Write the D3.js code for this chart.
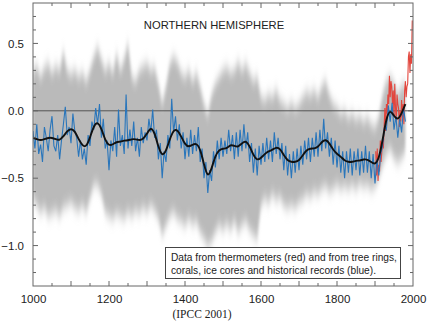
<!DOCTYPE html>
<html><head><meta charset="utf-8">
<script src="https://cdn.jsdelivr.net/npm/d3@7/dist/d3.min.js"></script>
<style>
html,body{margin:0;padding:0;background:#fff;}
svg{display:block;font-family:"Liberation Sans",Arial,sans-serif;}
</style></head>
<body>
<svg id="c" width="430" height="321"></svg>
<script>
// ---- data ----
const title = "NORTHERN HEMISPHERE";
const noteLines = ["Data from thermometers (red) and from tree rings,",
                   "corals, ice cores and historical records (blue)."];
const source = "(IPCC 2001)";
const xTicks = [1000, 1200, 1400, 1600, 1800, 2000];
const yTicks = [-1.0, -0.5, 0.0, 0.5];

// smoothed reconstruction, 1000..1980 every 10 years
const smoothStart = 1000, smoothStep = 10;
const smooth = [-0.20,-0.21,-0.22,-0.21,-0.20,-0.20,-0.21,-0.22,-0.19,-0.15,
 -0.13,-0.15,-0.21,-0.26,-0.27,-0.20,-0.11,-0.08,-0.13,-0.22,
 -0.26,-0.25,-0.23,-0.23,-0.22,-0.22,-0.21,-0.21,-0.22,-0.21,
 -0.17,-0.12,-0.16,-0.27,-0.34,-0.30,-0.21,-0.14,-0.14,-0.19,
 -0.25,-0.27,-0.25,-0.24,-0.28,-0.40,-0.50,-0.43,-0.33,-0.29,
 -0.28,-0.28,-0.25,-0.26,-0.27,-0.24,-0.22,-0.26,-0.33,-0.37,
 -0.35,-0.32,-0.30,-0.29,-0.27,-0.28,-0.33,-0.37,-0.38,-0.38,
 -0.37,-0.33,-0.29,-0.28,-0.28,-0.27,-0.23,-0.21,-0.24,-0.29,
 -0.32,-0.34,-0.37,-0.38,-0.38,-0.37,-0.37,-0.36,-0.36,-0.38,
 -0.40,-0.36,-0.22,-0.05,0.01,-0.04,-0.07,-0.02,0.05];

// proxy reconstruction (blue), 1000..1980 every 5 years
const blueStart = 1000, blueStep = 5;
const blue = [-0.15,-0.28,-0.10,-0.32,-0.25,-0.38,-0.12,-0.20,-0.30,-0.14,
 -0.04,-0.26,-0.30,-0.18,-0.36,-0.22,-0.10,0.03,-0.18,-0.12,
 -0.24,-0.02,-0.15,-0.20,-0.34,-0.22,-0.36,-0.28,-0.40,-0.18,
 -0.26,-0.08,-0.14,0.02,-0.10,0.05,-0.20,-0.06,-0.28,-0.22,
 -0.44,-0.22,-0.30,-0.12,-0.34,0.01,-0.26,-0.18,-0.32,0.12,
 -0.28,-0.14,-0.26,-0.08,-0.30,-0.20,-0.34,-0.12,-0.24,-0.16,
 -0.22,-0.06,-0.16,0.01,-0.20,-0.14,-0.36,-0.24,-0.50,-0.30,
 -0.38,-0.18,-0.28,0.09,-0.16,-0.04,-0.22,-0.10,-0.28,-0.16,
 -0.36,-0.20,-0.34,-0.14,-0.32,-0.18,-0.30,-0.12,-0.38,-0.28,
 -0.50,-0.38,-0.61,-0.44,-0.52,-0.30,-0.42,-0.22,-0.36,-0.20,
 -0.34,-0.22,-0.32,-0.14,-0.30,-0.18,-0.36,-0.16,-0.34,-0.14,
 -0.30,-0.10,-0.28,-0.16,-0.38,-0.24,-0.46,-0.28,-0.48,-0.26,
 -0.40,-0.24,-0.38,-0.20,-0.36,-0.22,-0.38,-0.16,-0.32,-0.20,
 -0.36,-0.24,-0.44,-0.26,-0.48,-0.32,-0.50,-0.30,-0.46,-0.28,
 -0.44,-0.26,-0.40,-0.22,-0.36,-0.20,-0.38,-0.20,-0.34,-0.16,
 -0.34,-0.14,-0.30,-0.06,-0.28,-0.16,-0.34,-0.20,-0.40,-0.22,
 -0.42,-0.26,-0.46,-0.30,-0.50,-0.30,-0.46,-0.28,-0.48,-0.30,
 -0.44,-0.28,-0.48,-0.30,-0.46,-0.26,-0.46,-0.30,-0.50,-0.32,
 -0.54,-0.36,-0.48,-0.32,-0.26,-0.12,-0.14,0.04,-0.08,0.06,
 -0.14,-0.04,-0.20,-0.06,-0.16,0.02,-0.08];

// instrumental record (red), 1902..1998 every 2 years
const redStart = 1902, redStep = 2;
const red = [-0.30,-0.48,-0.28,-0.52,-0.40,-0.45,-0.22,-0.38,-0.30,-0.20,
 -0.28,-0.12,0.02,-0.15,0.05,-0.02,0.12,0.05,0.26,0.10,
 0.22,0.18,0.05,0.15,-0.05,0.20,0.02,-0.08,0.12,0.05,
 0.02,-0.12,0.00,-0.08,0.08,-0.05,0.05,-0.10,0.15,0.22,
 0.10,0.18,0.20,0.40,0.44,0.28,0.42,0.35,0.67];

// uncertainty band, 1000..1980 every 10 years
const bandStart = 1000, bandStep = 10;
const bandUpper = [0.30,0.33,0.25,0.32,0.35,0.28,0.33,0.30,0.44,0.30,
 0.27,0.30,0.25,0.28,0.22,0.30,0.40,0.47,0.38,0.30,
 0.35,0.28,0.42,0.30,0.38,0.50,0.25,0.22,0.30,0.33,
 0.35,0.30,0.32,0.20,0.05,0.18,0.35,0.40,0.36,0.28,
 0.25,0.30,0.22,0.28,0.18,0.05,-0.03,0.12,0.20,0.25,
 0.30,0.32,0.28,0.30,0.36,0.30,0.35,0.28,0.22,0.25,
 0.10,0.08,0.12,0.10,0.15,0.08,0.05,0.02,0.06,0.02,
 0.05,0.10,0.14,0.12,0.15,0.10,0.18,0.22,0.12,0.05,
 0.02,-0.02,0.00,-0.05,-0.02,-0.06,-0.04,-0.08,-0.05,-0.10,
 -0.12,-0.05,0.12,0.22,0.25,0.20,0.12,0.18,0.20];
const bandLower = [-0.65,-0.70,-0.75,-0.72,-0.78,-0.76,-0.74,-0.78,-0.72,-0.70,
 -0.68,-0.72,-0.74,-0.70,-0.75,-0.65,-0.55,-0.55,-0.62,-0.75,
 -0.78,-0.80,-0.76,-0.78,-0.80,-0.75,-0.78,-0.74,-0.76,-0.72,
 -0.75,-0.70,-0.74,-0.80,-0.92,-0.85,-0.78,-0.75,-0.80,-0.82,
 -0.85,-0.80,-0.84,-0.82,-0.90,-0.95,-1.00,-0.97,-0.90,-0.85,
 -0.88,-0.84,-0.88,-0.82,-0.90,-0.85,-0.82,-0.88,-0.92,-0.95,
 -0.70,-0.65,-0.68,-0.62,-0.66,-0.64,-0.70,-0.72,-0.70,-0.72,
 -0.68,-0.66,-0.62,-0.64,-0.60,-0.62,-0.58,-0.56,-0.60,-0.58,
 -0.55,-0.58,-0.56,-0.58,-0.55,-0.58,-0.54,-0.56,-0.55,-0.58,
 -0.56,-0.50,-0.40,-0.32,-0.28,-0.35,-0.38,-0.35,-0.30];

// ---- drawing ----
const svg = d3.select("#c");
const L = 33, R = 413, T = 3, B = 286;
const x = d3.scaleLinear().domain([1000, 2000]).range([L, R]);
const y = d3.scaleLinear().domain([-1.3, 0.8]).range([B, T]);

const series = (vals, start, step) => vals.map((v, i) => ({yr: start + i * step, v}));

const defs = svg.append("defs");
defs.append("clipPath").attr("id", "plot")
  .append("rect").attr("x", L).attr("y", T).attr("width", R - L).attr("height", B - T);
const f = defs.append("filter").attr("id", "fuzz")
  .attr("filterUnits", "userSpaceOnUse").attr("x", 0).attr("y", 0).attr("width", 430).attr("height", 321);
f.append("feGaussianBlur").attr("stdDeviation", "1 7");

const g = svg.append("g").attr("clip-path", "url(#plot)");

const band = bandUpper.map((u, i) => ({yr: bandStart + i * bandStep, hi: u, lo: bandLower[i]}));
g.append("path").datum(band)
  .attr("d", d3.area().x(d => x(d.yr)).y0(d => y(d.lo)).y1(d => y(d.hi)))
  .attr("fill", "#bababa").attr("filter", "url(#fuzz)");

g.append("line").attr("x1", L).attr("x2", R).attr("y1", y(0)).attr("y2", y(0))
  .attr("stroke", "#555").attr("stroke-width", 1);

const line = d3.line().x(d => x(d.yr)).y(d => y(d.v));

g.append("path").datum(series(red, redStart, redStep))
  .attr("d", line).attr("fill", "none").attr("stroke", "#e2463d").attr("stroke-width", 1.1);
g.append("path").datum(series(blue, blueStart, blueStep))
  .attr("d", line).attr("fill", "none").attr("stroke", "#2a76bb").attr("stroke-width", 1.1);
g.append("path").datum(series(smooth, smoothStart, smoothStep))
  .attr("d", line.curve(d3.curveBasis)).attr("fill", "none").attr("stroke", "#111").attr("stroke-width", 1.9);

// frame
svg.append("rect").attr("x", L).attr("y", T).attr("width", R - L).attr("height", B - T)
  .attr("fill", "none").attr("stroke", "#666").attr("stroke-width", 1);

// ticks (inward)
const minorX = d3.range(1050, 2000, 50);
const minorY = d3.range(-12, 8).map(k => k / 10);
const tk = svg.append("g").attr("stroke", "#666").attr("stroke-width", 1);
minorX.forEach(t => {
  const len = (t % 100 === 0) ? 5 : 3;
  tk.append("line").attr("x1", x(t)).attr("x2", x(t)).attr("y1", B).attr("y2", B - len);
  tk.append("line").attr("x1", x(t)).attr("x2", x(t)).attr("y1", T).attr("y2", T + len);
});
minorY.forEach(t => {
  const major = Math.abs(Math.round(t * 10) % 5) === 0;
  const len = major ? 5 : 3;
  tk.append("line").attr("x1", L).attr("x2", L + len).attr("y1", y(t)).attr("y2", y(t));
  tk.append("line").attr("x1", R).attr("x2", R - len).attr("y1", y(t)).attr("y2", y(t));
});

// axes labels via d3 axes (lines hidden)
const fmt = d3.format(".1f");
const ax = svg.append("g").attr("transform", `translate(${L},0)`)
  .call(d3.axisLeft(y).tickValues(yTicks).tickFormat(d => fmt(d).replace("-", "\u2212")).tickSize(0).tickPadding(9));
const bx = svg.append("g").attr("transform", `translate(0,${B})`)
  .call(d3.axisBottom(x).tickValues(xTicks).tickFormat(d3.format("d")).tickSize(0).tickPadding(9));
[ax, bx].forEach(a => {
  a.select(".domain").remove();
  a.selectAll("text").attr("font-size", 11.5).attr("fill", "#222")
    .attr("font-family", "Liberation Sans, Arial, sans-serif");
});

// title
svg.append("text").attr("x", 214).attr("y", 29).attr("text-anchor", "middle")
  .attr("font-size", 11.2).attr("fill", "#222").text(title);

// note box
svg.append("rect").attr("x", 165.5).attr("y", 247.5).attr("width", 235).attr("height", 31)
  .attr("fill", "#fff").attr("stroke", "#444").attr("stroke-width", 1);
noteLines.forEach((t, i) => {
  svg.append("text").attr("x", 171).attr("y", 260.5 + i * 13).attr("font-size", 10.2)
    .attr("fill", "#222").text(t);
});

// source
svg.append("text").attr("x", 202).attr("y", 318).attr("text-anchor", "middle")
  .attr("font-family", "Liberation Serif, Times New Roman, serif").attr("font-size", 11.5)
  .attr("fill", "#222").text(source);
</script>
</body></html>
